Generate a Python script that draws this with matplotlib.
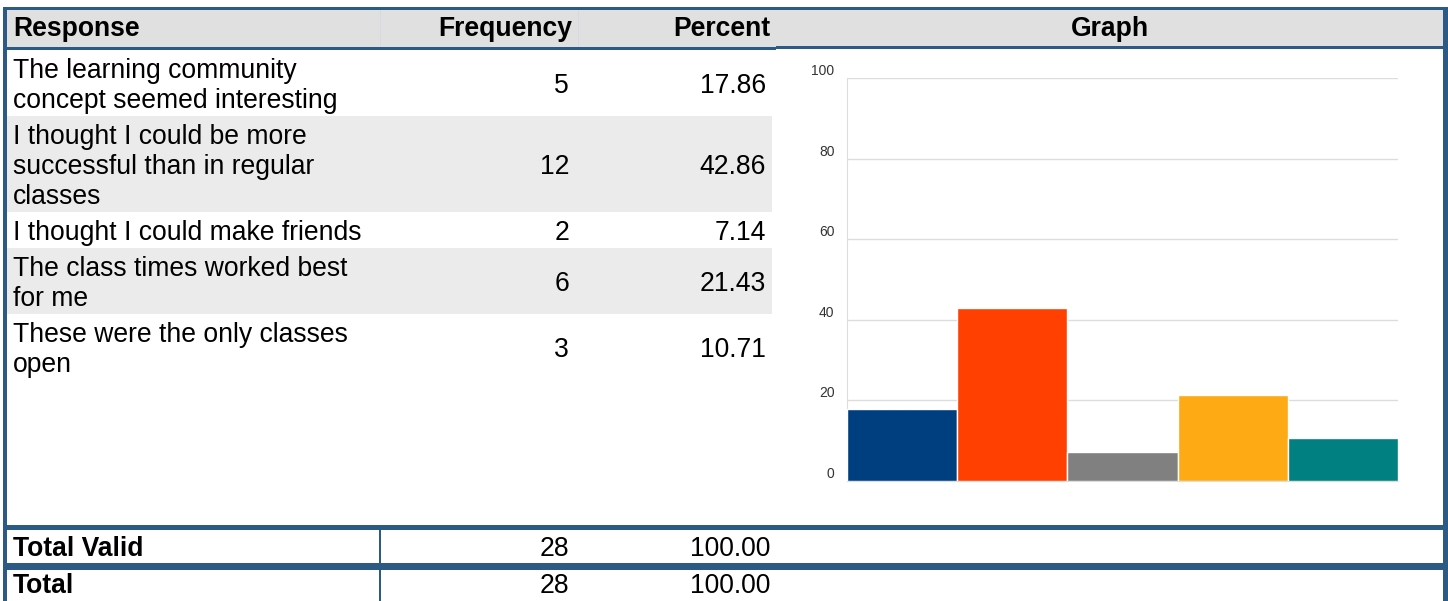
import matplotlib.pyplot as plt
from matplotlib.patches import Rectangle

plt.rcParams['font.family'] = ['Liberation Sans', 'DejaVu Sans']

# data
responses = ['The learning community\nconcept seemed interesting',
             'I thought I could be more\nsuccessful than in regular\nclasses',
             'I thought I could make friends',
             'The class times worked best\nfor me',
             'These were the only classes\nopen']
frequency = [5, 12, 2, 6, 3]
percent = [17.86, 42.86, 7.14, 21.43, 10.71]
bar_colors = ['#003f7f', '#ff4000', '#808080', '#fdaa14', '#008080']
total_labels = ['Total Valid', 'Total']
total_freq = [28, 28]
total_pct = [100.00, 100.00]
yticks = [0, 20, 40, 60, 80, 100]

W, H = 1448, 601
blue = '#2b5b84'
fs = 19.1

fig = plt.figure(figsize=(W / 100, H / 100), dpi=100)
bg = fig.add_axes([0, 0, 1, 1])
bg.set_xlim(0, W)
bg.set_ylim(H, 0)
bg.axis('off')


def rect(x0, y0, x1, y1, color, z=1):
    bg.add_patch(Rectangle((x0, y0), x1 - x0, y1 - y0, facecolor=color,
                           edgecolor='none', zorder=z))


# header
rect(7, 10, 1443, 47, '#e0e0e0')
rect(3, 7, 1448, 10, blue, 3)
rect(3, 47, 776, 50, blue, 3)
rect(776, 46, 1448, 49, blue, 3)
rect(379.5, 10, 380.5, 47, '#d4dae0', 2)
rect(577.5, 10, 578.5, 47, '#d4dae0', 2)
bg.text(13, 36, 'Response', fontsize=fs, fontweight='bold', va='baseline')
bg.text(572, 36, 'Frequency', fontsize=fs, fontweight='bold', va='baseline', ha='right')
bg.text(770, 36, 'Percent', fontsize=fs, fontweight='bold', va='baseline', ha='right')
bg.text(1110, 36, 'Graph', fontsize=fs, fontweight='bold', va='baseline', ha='center')

# body rows
top = 50
for i, (r, f, p) in enumerate(zip(responses, frequency, percent)):
    lines = r.split('\n')
    bottom = top + 30 * len(lines) + 6
    if i % 2 == 1:
        rect(7, top, 772, bottom, '#ebebeb')
    for j, ln in enumerate(lines):
        bg.text(13, top + 28 + 30 * j, ln, fontsize=fs, va='baseline')
    mid = (top + bottom) / 2 + 10
    bg.text(569, mid, str(f), fontsize=fs, va='baseline', ha='right')
    bg.text(766, mid, '%.2f' % p, fontsize=fs, va='baseline', ha='right')
    top = bottom

# totals
rect(3, 525, 1448, 530, blue, 3)
rect(3, 563, 1448, 570, blue, 3)
rect(378.5, 530, 380.5, 563, blue, 3)
rect(378.5, 570, 380.5, 601, blue, 3)
for k, (lab, f, p) in enumerate(zip(total_labels, total_freq, total_pct)):
    yb = [556, 593][k]
    bg.text(13, yb, lab, fontsize=fs, fontweight='bold', va='baseline')
    bg.text(569, yb, str(f), fontsize=fs, va='baseline', ha='right')
    bg.text(770, yb, '%.2f' % p, fontsize=fs, va='baseline', ha='right')

# outer borders
rect(3, 7, 7, 601, blue, 4)
rect(1443, 7, 1448, 601, blue, 4)

# bar chart
left, right, y100, y0 = 847, 1398, 78, 481
ax = fig.add_axes([left / W, 1 - y0 / H, (right - left) / W, (y0 - y100) / H])
ax.bar(range(len(percent)), percent, width=1.0, color=bar_colors,
       edgecolor='white', linewidth=1, zorder=3)
ax.set_xlim(-0.5, len(percent) - 0.5)
ax.set_ylim(0, 100)
ax.set_yticks(yticks)
ax.set_xticks([])
ax.grid(axis='y', color='#dddddd', linewidth=1, zorder=0)
for s in ['top', 'right']:
    ax.spines[s].set_visible(False)
for s in ['left', 'bottom']:
    ax.spines[s].set_color('#dddddd')
ax.tick_params(axis='y', length=0, pad=9, labelsize=10, labelcolor='#333333')
for lbl in ax.get_yticklabels():
    lbl.set_va('bottom')
ax.set_facecolor('none')

fig.savefig('out.png', dpi=100)
